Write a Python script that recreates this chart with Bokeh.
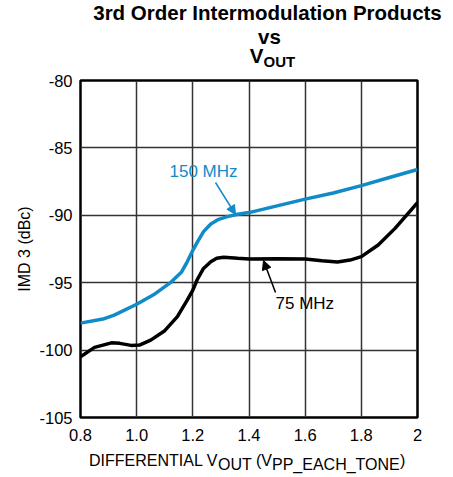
from bokeh.plotting import figure
from bokeh.layouts import column
from bokeh.models import Label, Arrow, NormalHead, Range1d, FixedTicker
from bokeh.core.properties import value
from bokeh.embed import file_html
from bokeh.resources import INLINE

# ---- data ----
x_150 = [0.80, 0.88, 0.92, 1.00, 1.06, 1.12, 1.16, 1.18, 1.20, 1.215, 1.238, 1.264,
         1.292, 1.323, 1.36, 1.40, 1.50, 1.60, 1.70, 1.80, 1.90, 2.00]
imd_150 = [-98.0, -97.7, -97.4, -96.6, -95.9, -95.0, -94.2, -93.45, -92.6, -92.03,
           -91.21, -90.64, -90.3, -90.1, -89.92, -89.8, -89.3, -88.8, -88.35, -87.8,
           -87.2, -86.6]

x_75 = [0.80, 0.85, 0.91, 0.94, 0.98, 1.01, 1.05, 1.10, 1.145, 1.18, 1.20, 1.215,
        1.238, 1.264, 1.285, 1.31, 1.36, 1.40, 1.50, 1.60, 1.66, 1.715, 1.76, 1.80,
        1.86, 1.92, 2.00]
imd_75 = [-100.5, -99.8, -99.46, -99.5, -99.65, -99.63, -99.26, -98.56, -97.52,
          -96.3, -95.55, -94.8, -93.94, -93.44, -93.19, -93.12, -93.19, -93.24,
          -93.22, -93.24, -93.37, -93.47, -93.32, -93.07, -92.2, -90.97, -89.06]

x_ticks = [0.8, 1.0, 1.2, 1.4, 1.6, 1.8, 2.0]
x_tick_labels = ["0.8", "1.0", "1.2", "1.4", "1.6", "1.8", "2"]
y_ticks = [-105, -100, -95, -90, -85, -80]
y_tick_labels = ["-105", "-100", "-95", "-90", "-85", "-80"]

title_lines = ["3rd Order Intermodulation Products", "vs", "V", "OUT"]
x_label_parts = ["DIFFERENTIAL V", "OUT", "(V", "PP_EACH_TONE", ")"]
y_label = "IMD 3 (dBc)"
series_labels = ["150 MHz", "75 MHz"]

BLUE = "#118ac8"
FONT = "Liberation Sans"
W = 453

def bl(y, size):
    # compensate for where the renderer puts an alphabetic baseline
    return y - 0.4 * size

def strip(h):
    f = figure(width=W, height=h, min_border=0, x_range=Range1d(0, W), y_range=Range1d(h, 0),
               x_axis_type=None, y_axis_type=None, output_backend="svg",
               toolbar_location=None, frame_align=False)
    f.outline_line_color = None
    f.grid.visible = False
    return f

# ---- title strip (page y 0..68) ----
TH = 68
top = strip(TH)
TS = 20.5
top.text(x=[267, 269, 263], y=[bl(20.5, TS), bl(44, TS), bl(63.5, TS)],
         text=title_lines[:3], text_font=value(FONT), text_font_style="bold",
         text_font_size=f"{TS}px", text_align=["center", "center", "right"],
         text_baseline="alphabetic", text_color="black")
top.text(x=[263], y=[bl(66.5, 15)], text=[title_lines[3]], text_font=value(FONT),
         text_font_style="bold", text_font_size="15px", text_align="left",
         text_baseline="alphabetic", text_color="black")

# ---- main plot (page y 68..447), frame x 80..417, y 80..417 ----
FL, FT, FW, FH, FB = 80, 12, 337, 337, 30
X0, X1, Y0, Y1 = 0.8, 2.0, -105, -80

p = figure(width=W, height=FT + FH + FB, frame_width=FW, frame_height=FH,
           min_border_left=FL, min_border_right=W - FL - FW,
           min_border_top=FT, min_border_bottom=FB,
           x_range=Range1d(X0, X1), y_range=Range1d(Y0, Y1),
           output_backend="svg", toolbar_location=None, frame_align=False)

def px2x(px):
    return X0 + (px - FL) / FW * (X1 - X0)

def py2y(py):
    return Y1 - (py - 80) / FH * (Y1 - Y0)

p.background_fill_color = "white"
p.border_fill_color = "white"
p.outline_line_color = "black"
p.outline_line_width = 2.5

for ax in (p.xaxis[0], p.yaxis[0]):
    ax.major_tick_line_color = None
    ax.minor_tick_line_color = None
    ax.axis_line_color = None
    ax.major_label_text_font = FONT
    ax.major_label_text_font_size = "16.5px"
    ax.major_label_text_color = "black"

p.xaxis.ticker = FixedTicker(ticks=x_ticks)
p.xaxis.major_label_overrides = {t: l for t, l in zip(x_ticks, x_tick_labels)}
p.xaxis.major_label_standoff = 5
p.yaxis.ticker = FixedTicker(ticks=y_ticks)
p.yaxis.major_label_overrides = {t: l for t, l in zip(y_ticks, y_tick_labels)}
p.yaxis.major_label_standoff = 2
p.yaxis.axis_label = y_label
p.yaxis.axis_label_text_font = FONT
p.yaxis.axis_label_text_font_size = "16px"
p.yaxis.axis_label_text_font_style = "normal"
p.yaxis.axis_label_text_color = "black"
p.yaxis.axis_label_standoff = 3

p.xgrid.grid_line_color = "#333333"
p.ygrid.grid_line_color = "#333333"
p.xgrid.grid_line_width = 1.5
p.ygrid.grid_line_width = 1.5

p.line(x_150, imd_150, line_color=BLUE, line_width=3.5)
p.line(x_75, imd_75, line_color="black", line_width=3.5)

p.add_layout(Label(x=px2x(169), y=py2y(bl(177.5, 17)), text=series_labels[0], text_color=BLUE,
                   text_font=FONT, text_font_size="17px", text_baseline="alphabetic"))
p.add_layout(Arrow(end=NormalHead(size=9, fill_color=BLUE, line_color=BLUE),
                   x_start=px2x(215), y_start=py2y(182), x_end=px2x(235), y_end=py2y(214),
                   line_color=BLUE, line_width=1.5))
p.add_layout(Label(x=px2x(275), y=py2y(bl(309.5, 17)), text=series_labels[1], text_color="black",
                   text_font=FONT, text_font_size="17px", text_baseline="alphabetic"))
p.add_layout(Arrow(end=NormalHead(size=9, fill_color="black", line_color="black"),
                   x_start=px2x(275), y_start=py2y(292), x_end=px2x(263), y_end=py2y(260),
                   line_color="black", line_width=1.5))

# ---- x-axis label strip (page y 447..477) ----
BH = 30
bot = strip(BH)
Y_MAIN, Y_SUB = bl(466, 16) - 447, bl(470, 16) - 447
bot.text(x=[88.5, 217.5, 255.5, 271.5, 399.5],
         y=[Y_MAIN, Y_SUB, Y_MAIN, Y_SUB, Y_MAIN],
         text=x_label_parts, text_font=value(FONT), text_font_size="16px",
         text_align="left", text_baseline="alphabetic", text_color="black")

layout = column(top, p, bot, spacing=0)
open("out.html", "w").write(file_html(layout, INLINE))
